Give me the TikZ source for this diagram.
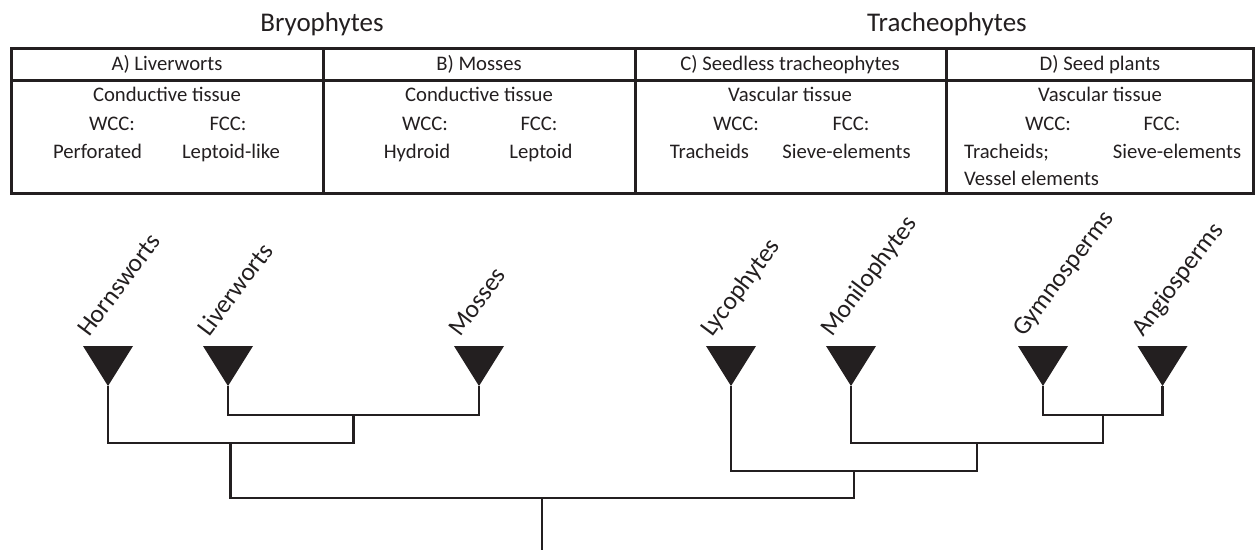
\documentclass[tikz,border=0pt]{standalone}
\usepackage{fontspec}
\setmainfont{Carlito}
\usepackage{tikz}

\definecolor{ink}{RGB}{35,31,32}

\begin{document}
\begin{tikzpicture}[x=1pt, y=-1pt, color=ink,
    tbl/.style={line width=3pt},
    branch/.style={line width=2.2pt},
    tri/.style={fill=ink},
    cell/.style={font=\fontsize{20.7}{24}\selectfont, inner sep=0pt, anchor=base},
    group/.style={font=\fontsize{27}{32}\selectfont, inner sep=0pt, anchor=base},
    taxon/.style={font=\fontsize{25.5}{30}\selectfont, inner sep=0pt, anchor=base west, rotate=53}]
    \useasboundingbox (0,0) rectangle (1256,550);

    % group titles
    \node[group] (bryo) at (322,31) {Bryophytes};
    \node[group] (trach) at (947,31) {Tracheophytes};

    % table
    \draw[tbl] (11,48) rectangle (1253,193);
    \draw[tbl] (11,80) -- (1253,80);
    \draw[tbl] (323,48) -- (323,193);
    \draw[tbl] (635,48) -- (635,193);
    \draw[tbl] (946,48) -- (946,193);

    \node[cell] (hdA) at (167,70.7) {A) Liverworts};
    \node[cell] (hdB) at (479,70.7) {B) Mosses};
    \node[cell] (hdC) at (790,70.7) {C) Seedless tracheophytes};
    \node[cell] (hdD) at (1100,70.7) {D) Seed plants};

    \node[cell] (tisA) at (167,101.7) {Conductive tissue};
    \node[cell] (wccA) at (112,130) {WCC:};
    \node[cell] (fccA) at (228,130) {FCC:};
    \node[cell] (wA) at (97.5,158) {Perforated};
    \node[cell] (fA) at (231,158) {Leptoid-like};

    \node[cell] (tisB) at (479,101.7) {Conductive tissue};
    \node[cell] (wccB) at (425,130) {WCC:};
    \node[cell] (fccB) at (539,130) {FCC:};
    \node[cell] (wB) at (417,158) {Hydroid};
    \node[cell] (fB) at (541,158) {Leptoid};

    \node[cell] (tisC) at (790,101.7) {Vascular tissue};
    \node[cell] (wccC) at (736,130) {WCC:};
    \node[cell] (fccC) at (851,130) {FCC:};
    \node[cell] (wC) at (709.5,158) {Tracheids};
    \node[cell] (fC) at (846.5,158) {Sieve-elements};

    \node[cell] (tisD) at (1100,101.7) {Vascular tissue};
    \node[cell] (wccD) at (1048,130) {WCC:};
    \node[cell] (fccD) at (1162,130) {FCC:};
    \node[cell, anchor=base west] (wD) at (964,158) {Tracheids;};
    \node[cell] (fD) at (1177,158) {Sieve-elements};
    \node[cell, anchor=base west] (wD2) at (964,185) {Vessel elements};

    % leaves
    \fill[tri] (83,346) -- (133,346) -- (108,386) -- cycle;
    \fill[tri] (203,346) -- (253,346) -- (228,386) -- cycle;
    \fill[tri] (454,346) -- (504,346) -- (479,386) -- cycle;
    \fill[tri] (706,346) -- (756,346) -- (731,386) -- cycle;
    \fill[tri] (826,346) -- (876,346) -- (851,386) -- cycle;
    \fill[tri] (1018,346) -- (1068,346) -- (1043,386) -- cycle;
    \fill[tri] (1137.5,346) -- (1187.5,346) -- (1162.5,386) -- cycle;

    \coordinate (horn) at (108,386);
    \coordinate (liv) at (228,386);
    \coordinate (mos) at (479,386);
    \coordinate (lyc) at (731,386);
    \coordinate (mon) at (851,386);
    \coordinate (gym) at (1043,386);
    \coordinate (ang) at (1162.5,386);

    \node[taxon] (hornlab) at (89,338) {Hornsworts};
    \node[taxon] (livlab) at (209,338) {Liverworts};
    \node[taxon] (moslab) at (460,338) {Mosses};
    \node[taxon] (lyclab) at (712,338) {Lycophytes};
    \node[taxon] (monlab) at (832,338) {Monilophytes};
    \node[taxon] (gymlab) at (1024,338) {Gymnosperms};
    \node[taxon] (anglab) at (1143,338) {Angiosperms};

    % tree
    \coordinate (livmos) at (353.5,415);
    \coordinate (bry) at (230.5,443);
    \coordinate (gymang) at (1103,415);
    \coordinate (seed) at (977,443);
    \coordinate (vasc) at (854,471);
    \coordinate (root) at (542,498);
    \coordinate (base) at (542,550);

    \draw[branch] (liv) |- (livmos) -| (mos);
    \draw[branch] (horn) |- (bry) -| (livmos);
    \draw[branch] (gym) |- (gymang) -| (ang);
    \draw[branch] (mon) |- (seed) -| (gymang);
    \draw[branch] (lyc) |- (vasc) -| (seed);
    \draw[branch] (bry) |- (root) -| (vasc);
    \draw[branch] (root) -- (base);
\end{tikzpicture}
\end{document}
